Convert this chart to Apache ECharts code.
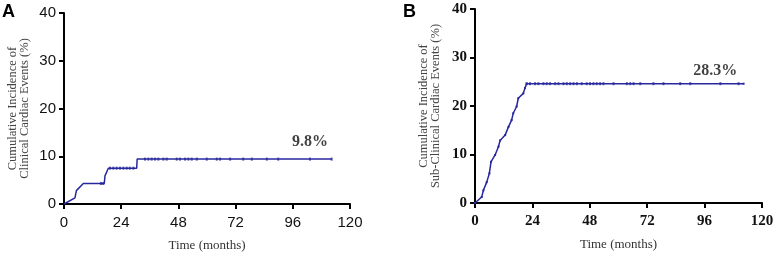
<!DOCTYPE html>
<html>
<head>
<meta charset="utf-8">
<script src="https://cdn.jsdelivr.net/npm/echarts@6/dist/echarts.min.js"></script>
<style>
  html, body { margin: 0; padding: 0; background: #fff; }
  #chart { width: 775px; height: 254px; }
</style>
</head>
<body>
<div id="chart"></div>
<script>
// panel A: clinical cardiac events
const monthsA = [0, 4.6, 5.2, 8.1, 16.9, 17.2, 17.9, 18.6, 30.5, 30.7, 112.3]
const incidenceA = [0, 1.3, 2.8, 4.3, 4.3, 5.9, 6.2, 7.5, 7.5, 9.4, 9.4]
const censorA = [15.5, 16.5, 19.3, 20.7, 22.1, 23.5, 24.9, 26.3, 27.6, 29.1,
  34, 35.4, 36.8, 38.2, 39.6, 41.7, 43.1, 47.3, 48.7, 50.8, 52.2, 53.6, 55.7,
  59.9, 64.1, 65.5, 69.7, 75.2, 78.8, 85.1, 89.9, 103.2, 112.3]
const censorLevelA = [4.3, 4.3, 7.5, 7.5, 7.5, 7.5, 7.5, 7.5, 7.5, 7.5]

// panel B: sub-clinical cardiac events
const monthsB = [0, 2.8, 3.5, 4.9, 6.0, 6.7, 8.4, 9.8, 10.5, 12.6, 14.0, 15.3, 16.0, 17.4, 18.1, 20.2, 20.9, 21.6, 112.3]
const incidenceB = [0, 1.24, 2.6, 4.3, 6.1, 8.5, 9.9, 11.6, 12.9, 14.0, 15.7, 17.1, 18.5, 19.9, 21.6, 22.6, 23.7, 24.6, 24.6]
const censorB = [21.6, 23, 25.1, 26.5, 28.6, 30, 31.4, 33.5, 34.9, 37, 38.4, 39.8,
  41.2, 42.6, 44.6, 46.7, 48.1, 49.5, 50.9, 52.3, 53.7, 57.9, 63.5, 64.9, 66.3,
  69.1, 74.6, 78.8, 85.8, 90, 102.6, 110.2]

const finalA = { month: 103.2, value: 13, text: "9.8%" }
const finalB = { month: 100.5, value: 27.3, text: "28.3%" }

const lineColor = "#28289e"
const serif = "'Liberation Serif', 'DejaVu Serif', serif"
const sans = "'Liberation Sans', Arial, sans-serif"

function xAxisFor(gridIndex, labelStyle) {
  return {
    type: "value",
    gridIndex,
    min: 0,
    max: 120,
    interval: 24,
    name: "Time (months)",
    nameLocation: "middle",
    nameGap: 35,
    nameTextStyle: { fontFamily: serif, fontSize: 13, color: "#333" },
    axisLine: { lineStyle: { color: "#000", width: 2 } },
    axisTick: { length: 5, lineStyle: { color: "#000", width: 2 } },
    axisLabel: { margin: 11, ...labelStyle },
    splitLine: { show: false },
  }
}

function yAxisFor(gridIndex, name, labelStyle) {
  return {
    type: "value",
    gridIndex,
    min: 0,
    max: 40,
    interval: 10,
    name,
    nameLocation: "middle",
    nameRotate: 90,
    nameGap: 33,
    nameTextStyle: { fontFamily: serif, fontSize: 12.5, color: "#444", lineHeight: 12 },
    axisLine: { show: true, lineStyle: { color: "#000", width: 2 } },
    axisTick: { show: true, length: 5, lineStyle: { color: "#000", width: 2 } },
    axisLabel: { margin: 8, ...labelStyle },
    splitLine: { show: false },
  }
}

const labelA = { fontFamily: sans, fontSize: 15, color: "#111" }
const labelB = { fontFamily: serif, fontSize: 15, fontWeight: "bold", color: "#111" }
const panelTitle = { fontFamily: sans, fontSize: 18, fontWeight: "bold", color: "#000" }

const chart = echarts.init(document.getElementById("chart"))

chart.setOption({
  animation: false,
  title: [
    { text: "A", left: 2, top: 3, padding: 0, textStyle: panelTitle },
    { text: "B", left: 403, top: 3, padding: 0, textStyle: panelTitle },
  ],
  grid: [
    { left: 64, top: 13, width: 286, height: 191, outerBoundsMode: "none" },
    { left: 475, top: 9, width: 287, height: 194, outerBoundsMode: "none" },
  ],
  xAxis: [xAxisFor(0, labelA), xAxisFor(1, labelB)],
  yAxis: [
    yAxisFor(0, "Cumulative Incidence of\nClinical Cardiac Events (%)", labelA),
    yAxisFor(1, "Cumulative Incidence of\nSub-Clinical Cardiac Events (%)", labelB),
  ],
  series: [
    {
      type: "line",
      xAxisIndex: 0,
      yAxisIndex: 0,
      data: monthsA.map((m, i) => [m, incidenceA[i]]),
      symbol: "none",
      lineStyle: { color: lineColor, width: 1.5 },
    },
    {
      type: "scatter",
      xAxisIndex: 0,
      yAxisIndex: 0,
      data: censorA.map((m, i) => [m, i < censorLevelA.length ? censorLevelA[i] : 9.4]),
      symbol: "rect",
      symbolSize: [2, 3],
      itemStyle: { color: lineColor },
    },
    {
      type: "line",
      xAxisIndex: 1,
      yAxisIndex: 1,
      data: monthsB.map((m, i) => [m, incidenceB[i]]),
      symbol: "rect",
      symbolSize: 2,
      showSymbol: true,
      itemStyle: { color: lineColor },
      lineStyle: { color: lineColor, width: 1.5 },
    },
    {
      type: "scatter",
      xAxisIndex: 1,
      yAxisIndex: 1,
      data: censorB.map((m) => [m, 24.6]),
      symbol: "rect",
      symbolSize: [2, 3],
      itemStyle: { color: lineColor },
    },
    {
      type: "scatter",
      xAxisIndex: 0,
      yAxisIndex: 0,
      data: [[finalA.month, finalA.value]],
      symbolSize: 0,
      label: {
        show: true,
        position: "inside",
        formatter: finalA.text,
        fontFamily: serif,
        fontSize: 16,
        fontWeight: "bold",
        color: "#111",
      },
    },
    {
      type: "scatter",
      xAxisIndex: 1,
      yAxisIndex: 1,
      data: [[finalB.month, finalB.value]],
      symbolSize: 0,
      label: {
        show: true,
        position: "inside",
        formatter: finalB.text,
        fontFamily: serif,
        fontSize: 16,
        fontWeight: "bold",
        color: "#111",
      },
    },
  ],
})
</script>
</body>
</html>
